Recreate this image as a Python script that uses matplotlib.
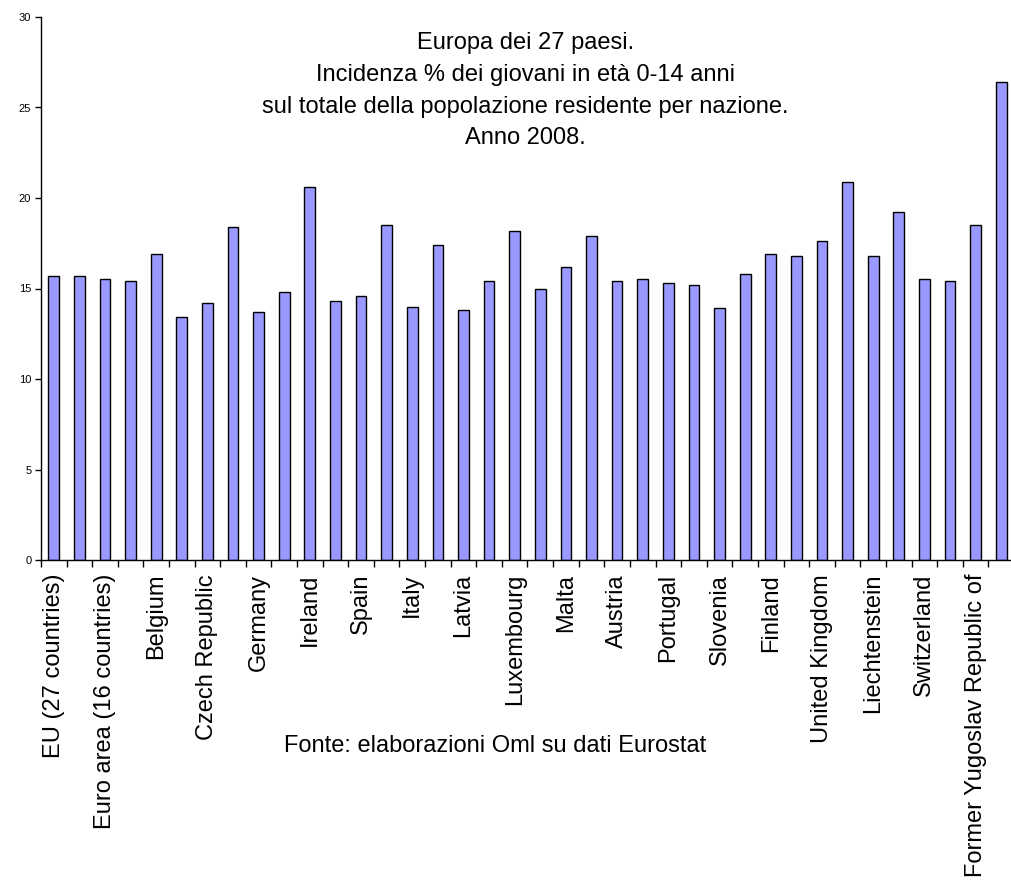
import matplotlib
matplotlib.use("Agg")
import matplotlib.pyplot as plt
import numpy as np

plt.rcParams['font.family'] = ['Liberation Sans', 'DejaVu Sans']

countries = ["EU (27 countries)", "EU (25 countries)", "Euro area (16 countries)", "Euro area (15 countries)",
             "Belgium", "Bulgaria", "Czech Republic", "Denmark", "Germany", "Estonia", "Ireland", "Greece",
             "Spain", "France", "Italy", "Cyprus", "Latvia", "Lithuania", "Luxembourg", "Hungary", "Malta",
             "Netherlands", "Austria", "Poland", "Portugal", "Romania", "Slovenia", "Slovakia", "Finland",
             "Sweden", "United Kingdom", "Iceland", "Liechtenstein", "Norway", "Switzerland", "Croatia",
             "Former Yugoslav Republic of", "Turkey"]
values = [15.7, 15.7, 15.5, 15.4, 16.9, 13.4, 14.2, 18.4, 13.7, 14.8, 20.6, 14.3,
          14.6, 18.5, 14.0, 17.4, 13.8, 15.4, 18.2, 15.0, 16.2, 17.9, 15.4, 15.5,
          15.3, 15.2, 13.9, 15.8, 16.9, 16.8, 17.6, 20.9, 16.8, 19.2, 15.5, 15.4,
          18.5, 26.4]
yticks = [0, 5, 10, 15, 20, 25, 30]

fig = plt.figure(figsize=(10.12, 8.85), dpi=100)
ax = fig.add_axes([41/1012, 1-560/885, 973/1012, 543/885])
x = np.arange(len(countries))
ax.bar(x, values, width=0.42, color='#9999FF', edgecolor='black', linewidth=1.0)
ax.set_xlim(-0.5, len(countries) - 0.5)
ax.set_ylim(0, 30)
ax.set_yticks(yticks)
ax.set_yticklabels([str(t) for t in yticks], fontsize=8)
ax.tick_params(axis='y', direction='out', length=4, width=1, pad=3)

ax.set_xticks(np.arange(len(countries) + 1) - 0.5)
ax.set_xticklabels([])
ax.tick_params(axis='x', which='major', direction='out', length=5, width=1)
ax.set_xticks(x[::2], minor=True)
ax.set_xticklabels(countries[::2], minor=True, rotation=90, fontsize=17)
ax.tick_params(axis='x', which='minor', length=0, pad=10)

for s in ['top', 'right']:
    ax.spines[s].set_visible(False)
for s in ['left', 'bottom']:
    ax.spines[s].set_linewidth(1)

ax.text(0.498, 0.972, "Europa dei 27 paesi.\nIncidenza % dei giovani in età 0-14 anni\n"
        "sul totale della popolazione residente per nazione.\nAnno 2008.",
        transform=ax.transAxes, ha='center', va='top', fontsize=17, linespacing=1.57)
fig.text(495/1012, 1-746/885, "Fonte: elaborazioni Oml su dati Eurostat", ha='center', va='center', fontsize=17)

fig.savefig("out.png", dpi=100)
